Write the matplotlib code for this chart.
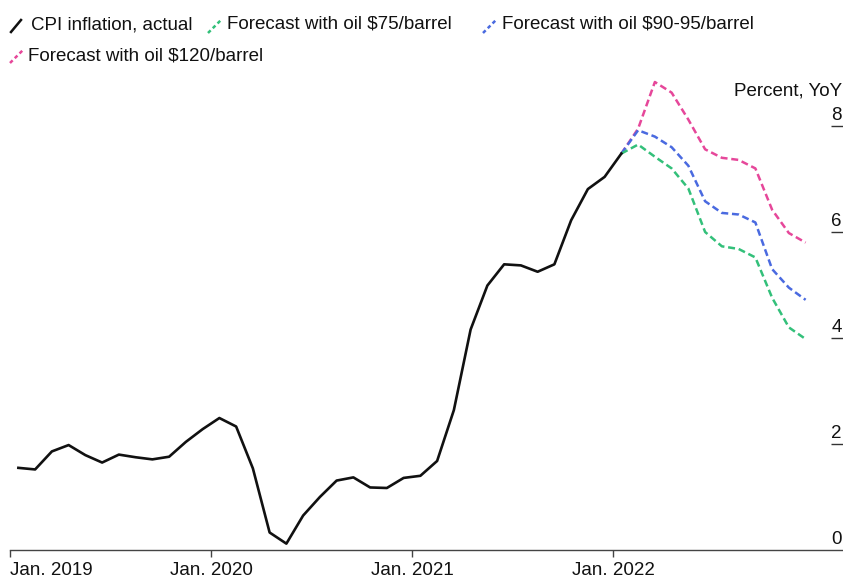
import matplotlib
matplotlib.use("Agg")
import matplotlib.pyplot as plt
from matplotlib.lines import Line2D
import numpy as np

plt.rcParams['font.family'] = ['Liberation Sans', 'DejaVu Sans']

# ---- data ----
# Monthly CPI inflation, Jan 2019 .. Jan 2022 (percent, YoY)
actual = [1.55, 1.52, 1.86, 1.98, 1.79, 1.65, 1.80, 1.75, 1.71, 1.76, 2.04, 2.28,
          2.49, 2.33, 1.54, 0.33, 0.12, 0.65, 1.00, 1.31, 1.37, 1.18, 1.17, 1.36,
          1.40, 1.68, 2.64, 4.16, 4.99, 5.39, 5.37, 5.25, 5.39, 6.22, 6.81, 7.04,
          7.48]
# Forecasts Jan 2022 .. Dec 2022
fc_75 = [7.48, 7.65, 7.42, 7.20, 6.82, 6.00, 5.73, 5.68, 5.52, 4.76, 4.20, 3.98]
fc_90 = [7.48, 7.92, 7.80, 7.60, 7.25, 6.58, 6.36, 6.33, 6.18, 5.30, 4.95, 4.72]
fc_120 = [7.48, 7.95, 8.83, 8.63, 8.12, 7.56, 7.40, 7.36, 7.20, 6.42, 5.98, 5.80]

legend_labels = ["CPI inflation, actual", "Forecast with oil $75/barrel",
                 "Forecast with oil $90-95/barrel", "Forecast with oil $120/barrel"]
xtick_months = [0, 12, 24, 36]
xtick_labels = ["Jan. 2019", "Jan. 2020", "Jan. 2021", "Jan. 2022"]
ytick_vals = [0, 2, 4, 6, 8]
y_unit = "Percent, YoY"

# ---- styling ----
W, H = 843, 579
FS = 13.5
C_BLACK = '#111111'
C_GREEN = '#33c07a'
C_BLUE = '#4a6ae0'
C_PINK = '#e6479a'
DASH = (0, (2.8, 1.5))

fig = plt.figure(figsize=(W / 100, H / 100), dpi=100)
fig.patch.set_facecolor('white')

ax_left, ax_right, ax_bottom, ax_top = 10, 843, 550, 70
ax = fig.add_axes([ax_left / W, 1 - ax_bottom / H, (ax_right - ax_left) / W,
                   (ax_bottom - ax_top) / H])
px_per_month = 16.75
ax.set_xlim(0, (ax_right - ax_left) / px_per_month)
ax.set_ylim(0, (ax_bottom - ax_top) / 53.0)

x_act = np.arange(len(actual)) + 0.5
x_fc = np.arange(len(fc_75)) + 36.5

ax.plot(x_fc, fc_120, color=C_PINK, lw=1.8, linestyle=DASH)
ax.plot(x_fc, fc_90, color=C_BLUE, lw=1.8, linestyle=DASH)
ax.plot(x_fc, fc_75, color=C_GREEN, lw=1.8, linestyle=DASH)
ax.plot(x_act, actual, color=C_BLACK, lw=1.9, solid_joinstyle='round')

for s in ['top', 'left', 'right']:
    ax.spines[s].set_visible(False)
ax.spines['bottom'].set_color('#444444')
ax.spines['bottom'].set_linewidth(1.0)

ax.set_xticks(xtick_months)
ax.set_xticklabels([])
ax.tick_params(axis='x', direction='out', length=5, width=1.0, color='#444444')
for i, (m, lab) in enumerate(zip(xtick_months, xtick_labels)):
    ax.annotate(lab, xy=(m, 0), xycoords=('data', 'axes fraction'),
                xytext=(0, -25), textcoords='offset pixels',
                ha='left' if i == 0 else 'center', va='baseline',
                fontsize=FS, color='#111111', annotation_clip=False)

ax.yaxis.tick_right()
ax.set_yticks([v for v in ytick_vals if v > 0])
ax.set_yticklabels([])
ax.tick_params(axis='y', direction='in', length=8.6, width=1.0, color='#333333')
for v in ytick_vals:
    ax.annotate(str(v), xy=(1, v), xycoords=('axes fraction', 'data'),
                xytext=(-1, 6), textcoords='offset pixels',
                ha='right', va='baseline', fontsize=FS, color='#111111',
                annotation_clip=False)

fig.text(842 / W, 1 - 95 / H, y_unit, ha='right', va='baseline',
         fontsize=FS, color='#111111')

# ---- legend (manual, two rows) ----
def icon(x0, y0, x1, y1, color, ls):
    fig.add_artist(Line2D([x0 / W, x1 / W], [1 - y0 / H, 1 - y1 / H],
                          transform=fig.transFigure, color=color, lw=1.8,
                          linestyle=ls))

icon(11, 32, 21, 20, C_BLACK, '-')
fig.text(31 / W, 1 - 29 / H, legend_labels[0], fontsize=FS, va='baseline', color='#111111')
icon(208, 33, 221, 20, C_GREEN, (0, (1.5, 1.2)))
fig.text(227 / W, 1 - 29 / H, legend_labels[1], fontsize=FS, va='baseline', color='#111111')
icon(483, 33, 496, 20, C_BLUE, (0, (1.5, 1.2)))
fig.text(502 / W, 1 - 29 / H, legend_labels[2], fontsize=FS, va='baseline', color='#111111')
icon(10, 63, 23, 50, C_PINK, (0, (1.5, 1.2)))
fig.text(28 / W, 1 - 60 / H, legend_labels[3], fontsize=FS, va='baseline', color='#111111')

fig.savefig('out.png', dpi=100, facecolor='white')
